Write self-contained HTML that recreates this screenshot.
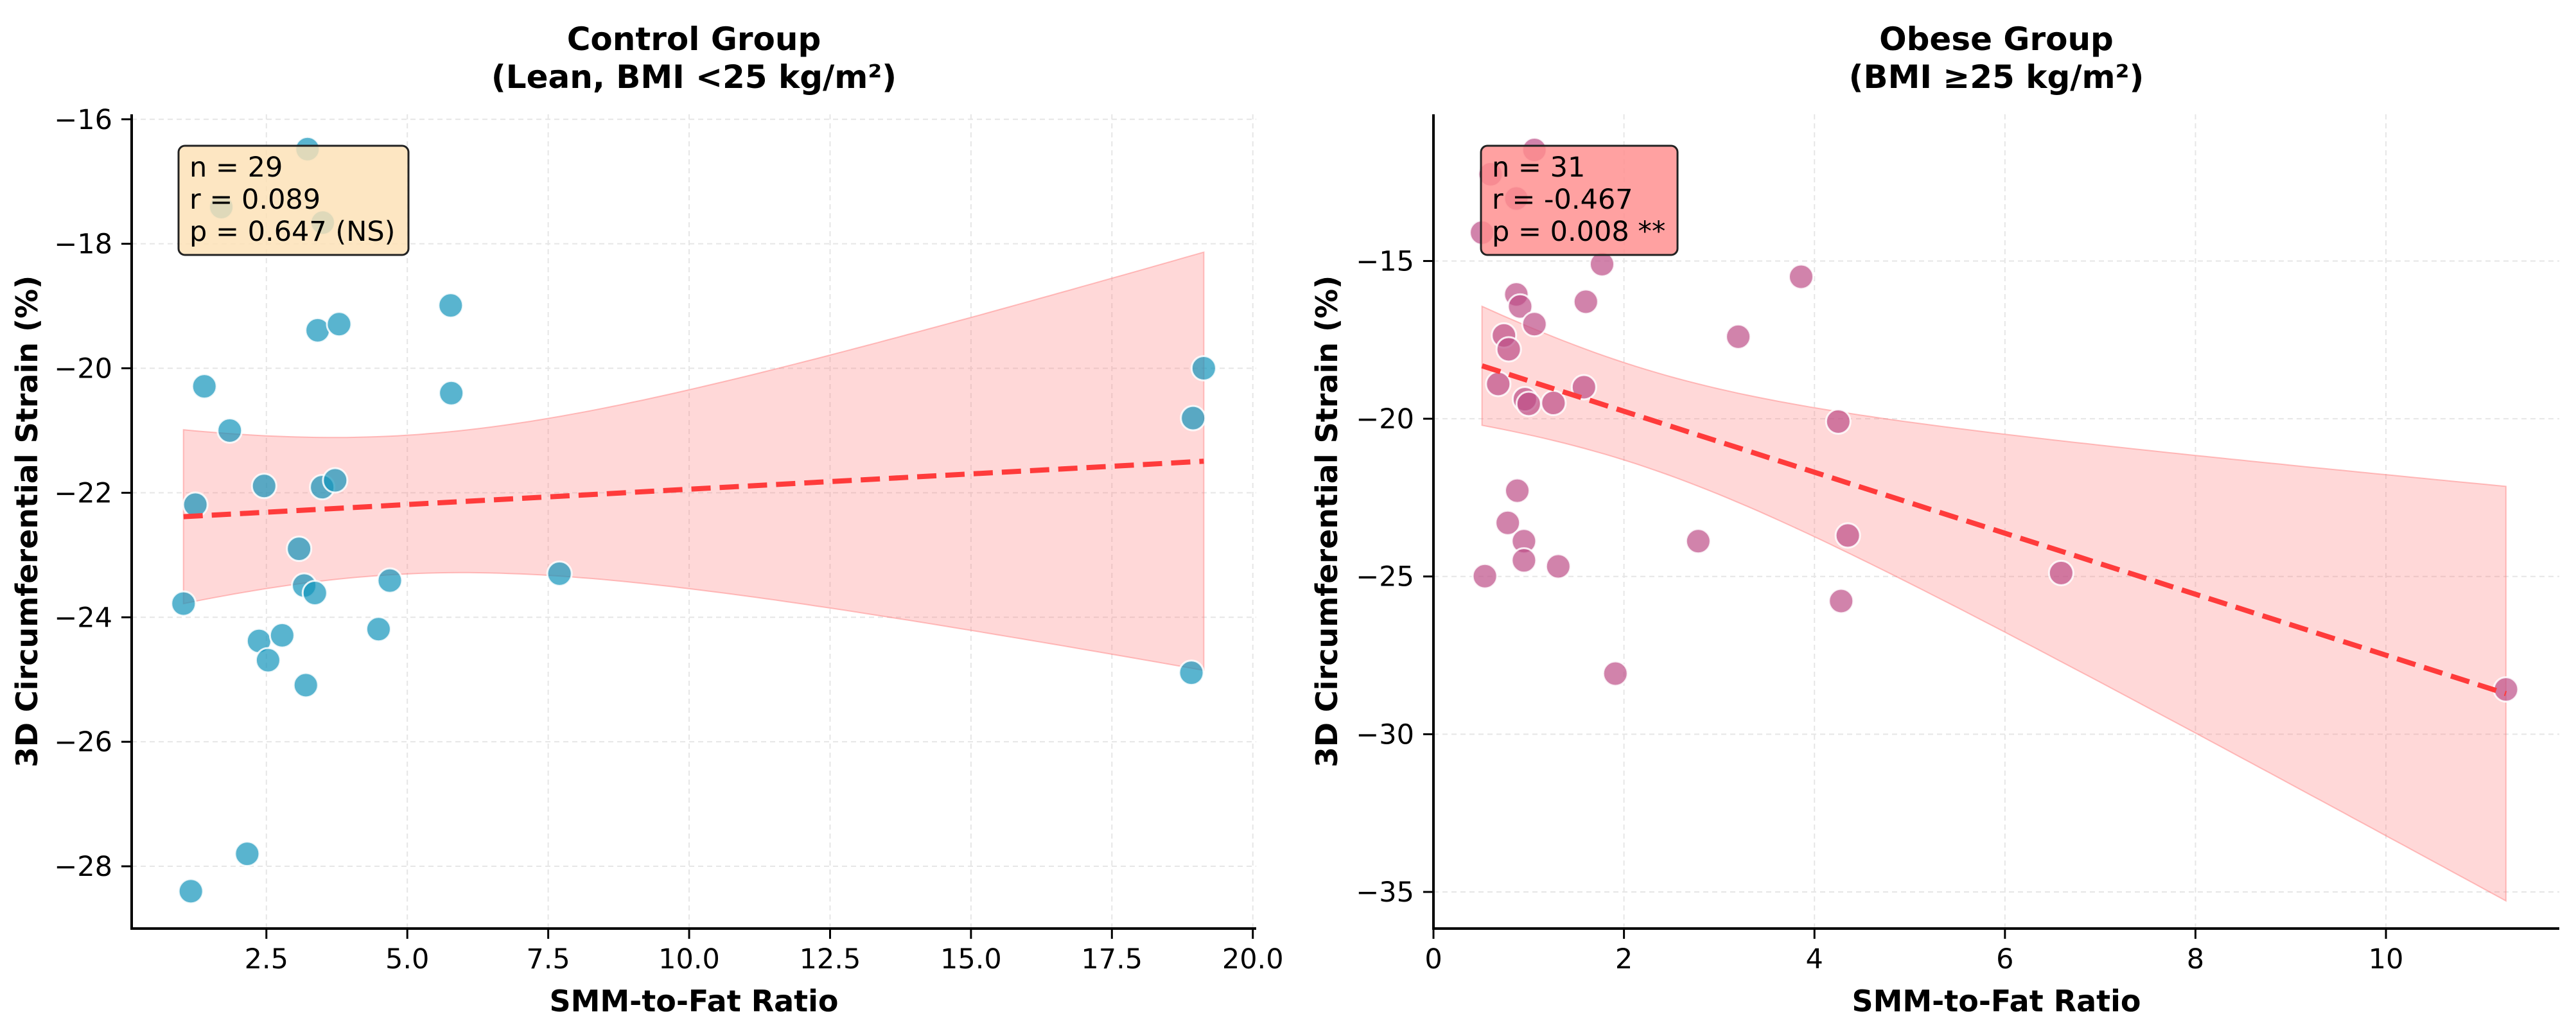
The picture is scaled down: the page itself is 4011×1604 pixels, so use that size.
<!DOCTYPE html>
<html><head><meta charset="utf-8">
<style>
html,body{margin:0;padding:0;background:#fff;}
svg{display:block;font-family:"DejaVu Sans","Liberation Sans",sans-serif;}
</style></head>
<body>
<svg id="chart" width="4011" height="1604" viewBox="0 0 4011 1604" xmlns="http://www.w3.org/2000/svg">
<rect width="4011" height="1604" fill="#fff"/>
</svg>
<script>
// ---------- Control group data ----------
const ctrlX = [3.23,1.70,3.50,5.77,3.41,3.79,1.40,5.78,1.85,19.13,18.94,2.46,1.24,3.49,3.72,3.08,3.17,3.36,4.69,7.70,1.03,2.37,2.78,2.53,4.49,3.20,18.91,2.16,1.16];
const ctrlY = [-16.48,-17.41,-17.66,-18.99,-19.39,-19.29,-20.29,-20.40,-21.0,-20.0,-20.80,-21.89,-22.19,-21.91,-21.80,-22.90,-23.49,-23.61,-23.41,-23.30,-23.78,-24.38,-24.29,-24.69,-24.19,-25.09,-24.89,-27.80,-28.40];
const ctrlXTicks = [2.5,5.0,7.5,10.0,12.5,15.0,17.5,20.0];
const ctrlXTickLabels = ["2.5","5.0","7.5","10.0","12.5","15.0","17.5","20.0"];
const ctrlYTicks = [-16,-18,-20,-22,-24,-26,-28];
const ctrlYTickLabels = ["\u221216","\u221218","\u221220","\u221222","\u221224","\u221226","\u221228"];
const ctrlStats = ["n = 29","r = 0.089","p = 0.647 (NS)"];

// ---------- Obese group data ----------
const obX = [1.06,0.60,0.87,0.51,1.77,3.86,0.87,0.91,1.60,1.06,0.74,0.79,3.20,0.68,1.58,0.96,1.00,1.26,4.25,0.88,0.78,0.95,0.95,1.31,2.78,4.35,0.54,6.59,4.28,1.91,11.26];
const obY = [-11.48,-12.25,-13.02,-14.10,-15.10,-15.50,-16.06,-16.44,-16.29,-17.0,-17.36,-17.80,-17.40,-18.90,-19.0,-19.38,-19.53,-19.50,-20.09,-22.28,-23.30,-23.88,-24.49,-24.68,-23.88,-23.70,-24.99,-24.89,-25.78,-28.08,-28.58];
const obXTicks = [0,2,4,6,8,10];
const obXTickLabels = ["0","2","4","6","8","10"];
const obYTicks = [-15,-20,-25,-30,-35];
const obYTickLabels = ["\u221215","\u221220","\u221225","\u221230","\u221235"];
const obStats = ["n = 31","r = -0.467","p = 0.008 **"];

const NS = "http://www.w3.org/2000/svg";
const svg = document.getElementById('chart');
function mk(tag, attrs, parent){
  const e = document.createElementNS(NS, tag);
  for (const k in attrs) e.setAttribute(k, attrs[k]);
  (parent||svg).appendChild(e);
  return e;
}

function panel(cfg){
  const g = mk('g', {});
  
  
  const sx = v => cfg.px0 + (v - cfg.xmin) / (cfg.xmax - cfg.xmin) * (cfg.px1 - cfg.px0);
  const sy = v => cfg.py0 + (cfg.ymax - v) / (cfg.ymax - cfg.ymin) * (cfg.py1 - cfg.py0);

  cfg.xt.forEach((t) => {
    const l = mk('line', {x1:sx(t), x2:sx(t), y1:cfg.py0, y2:cfg.py1, stroke:'#e6e6e6', 'stroke-width':2, 'stroke-dasharray':'8,6'}, g);
    
    
  });
  cfg.yt.forEach((t) => {
    const l = mk('line', {x1:cfg.px0, x2:cfg.px1, y1:sy(t), y2:sy(t), stroke:'#e6e6e6', 'stroke-width':2, 'stroke-dasharray':'8,6'}, g);
    
    
  });

  const X = cfg.x, Y = cfg.y, n = X.length;
  const mx = X.reduce((a,b)=>a+b,0)/n, my = Y.reduce((a,b)=>a+b,0)/n;
  let sxx=0, sxy=0;
  for (let i=0;i<n;i++){ sxx += (X[i]-mx)**2; sxy += (X[i]-mx)*(Y[i]-my); }
  const b = sxy/sxx, a = my - b*mx;
  let sse=0; for (let i=0;i<n;i++) sse += (Y[i]-(a+b*X[i]))**2;
  const s = Math.sqrt(sse/(n-2));
  const tcrit = cfg.t;
  const xlo = Math.min(...X), xhi = Math.max(...X);
  const up=[], lo=[];
  for (let k=0;k<=100;k++){
    const xv = xlo + (xhi-xlo)*k/100;
    const yv = a + b*xv;
    const se = s*Math.sqrt(1/n + (xv-mx)**2/sxx);
    up.push([sx(xv), sy(yv + tcrit*se)]);
    lo.push([sx(xv), sy(yv - tcrit*se)]);
  }
  const pts = up.concat(lo.reverse()).map(p=>p[0].toFixed(1)+','+p[1].toFixed(1)).join(' ');
  const band = mk('polygon', {points:pts, fill:'rgba(255,110,110,0.27)', stroke:'rgba(255,120,120,0.45)', 'stroke-width':2}, g);
  
  

  for (let i=0;i<n;i++){
    const c = mk('circle', {cx:sx(X[i]), cy:sy(Y[i]), r:19, fill:cfg.color, 'fill-opacity':0.7, stroke:'#fff', 'stroke-width':3, 'stroke-opacity':0.85}, g);
    
    
  }

  const rl = mk('line', {x1:sx(xlo), y1:sy(a+b*xlo), x2:sx(xhi), y2:sy(a+b*xhi), stroke:'#ff3b3b', 'stroke-width':8, 'stroke-dasharray':'30,14'}, g);
  
  

  const ls = mk('line', {x1:cfg.px0, x2:cfg.px0, y1:cfg.py0, y2:cfg.py1+2, stroke:'#000', 'stroke-width':4}, g);
  
  
  const bs = mk('line', {x1:cfg.px0-2, x2:cfg.px1, y1:cfg.py1, y2:cfg.py1, stroke:'#000', 'stroke-width':4}, g);
  
  

  cfg.xt.forEach((t,i) => {
    mk('line', {x1:sx(t), x2:sx(t), y1:cfg.py1, y2:cfg.py1+16, stroke:'#000', 'stroke-width':3}, g);
    const tx = mk('text', {x:sx(t), y:cfg.py1+62, 'font-size':43, 'text-anchor':'middle', fill:'#000'}, g);
    tx.textContent = cfg.xl[i];
    
    
  });
  cfg.yt.forEach((t,i) => {
    mk('line', {x1:cfg.px0-16, x2:cfg.px0, y1:sy(t), y2:sy(t), stroke:'#000', 'stroke-width':3}, g);
    const tx = mk('text', {x:cfg.px0-30, y:sy(t)+15, 'font-size':43, 'text-anchor':'end', fill:'#000'}, g);
    tx.textContent = cfg.yl[i];
    
    
  });

  const cxm = (cfg.px0+cfg.px1)/2;
  const t1 = mk('text', {x:cxm, y:78, 'font-size':50, 'font-weight':'bold', 'text-anchor':'middle'}, g);
  t1.textContent = cfg.title1;
  
  
  const t2 = mk('text', {x:cxm, y:137, 'font-size':50, 'font-weight':'bold', 'text-anchor':'middle'}, g);
  t2.textContent = cfg.title2;
  
  
  const xlab = mk('text', {x:cxm, y:1575, 'font-size':46, 'font-weight':'bold', 'text-anchor':'middle'}, g);
  xlab.textContent = 'SMM-to-Fat Ratio';
  
  
  const ymid = (cfg.py0+cfg.py1)/2;
  const ylab = mk('text', {x:cfg.ylx, y:ymid, 'font-size':46, 'font-weight':'bold', 'text-anchor':'middle', transform:`rotate(-90 ${cfg.ylx} ${ymid})`}, g);
  ylab.textContent = '3D Circumferential Strain (%)';
  
  

  const bx = mk('rect', {x:cfg.box[0], y:227, width:cfg.box[1], height:170, rx:10, fill:cfg.boxFill, 'fill-opacity':0.82, stroke:'#222', 'stroke-width':3}, g);
  
  
  cfg.stats.forEach((s,i) => {
    const tx = mk('text', {x:cfg.box[0]+17, y:275+50*i, 'font-size':43, fill:'#000'}, g);
    tx.textContent = s;
    
    
  });
}

panel({name:'control-group-panel', x:ctrlX, y:ctrlY, xt:ctrlXTicks, xl:ctrlXTickLabels, yt:ctrlYTicks, yl:ctrlYTickLabels,
  xmin:0.11, xmax:20.06, ymin:-29.0, ymax:-15.92, px0:205, px1:1956, py0:178, py1:1446,
  color:'#1394ba', t:2.052, title1:'Control Group', title2:'(Lean, BMI <25 kg/m\u00B2)', ylx:58,
  box:[278,358], boxFill:'#fde0b4', stats:ctrlStats});
panel({name:'obese-group-panel', x:obX, y:obY, xt:obXTicks, xl:obXTickLabels, yt:obYTicks, yl:obYTickLabels,
  xmin:0, xmax:11.82, ymin:-36.16, ymax:-10.35, px0:2232, px1:3985, py0:178, py1:1446,
  color:'#bd4e87', t:2.045, title1:'Obese Group', title2:'(BMI \u226525 kg/m\u00B2)', ylx:2082,
  box:[2306,306], boxFill:'#ff8c8c', stats:obStats});
</script>
</body></html>
